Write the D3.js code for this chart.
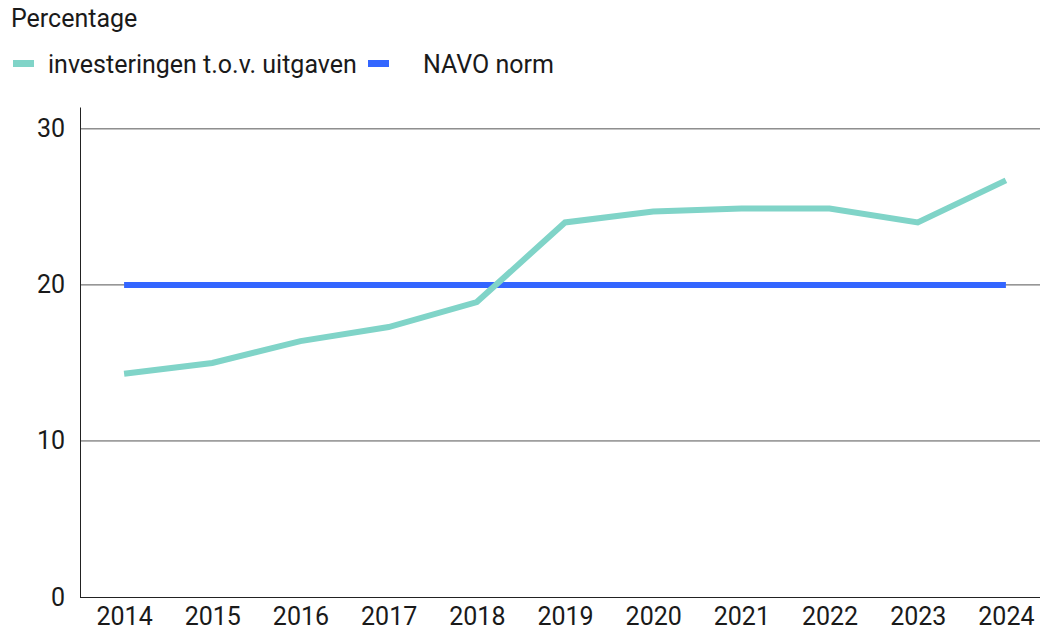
<!DOCTYPE html>
<html>
<head>
<meta charset="utf-8">
<script src="https://cdn.jsdelivr.net/npm/d3@7"></script>
<style>
  body { margin: 0; background: #fff; }
  svg { display: block; font-family: Roboto, sans-serif; }
</style>
</head>
<body>
<div id="chart"></div>
<script>
// Data
var years = ["2014", "2015", "2016", "2017", "2018", "2019", "2020", "2021", "2022", "2023", "2024"];
var investeringen = [14.3, 15.0, 16.4, 17.3, 18.9, 24.0, 24.7, 24.9, 24.9, 24.0, 26.7];
var navoNorm = [20, 20, 20, 20, 20, 20, 20, 20, 20, 20, 20];
var yTicks = [0, 10, 20, 30];
var seriesNames = ["investeringen t.o.v. uitgaven", "NAVO norm"];
var seriesColors = ["#80d4c8", "#3366ff"];

var width = 1040, height = 632;
var margin = { top: 107, right: -10, bottom: 35, left: 80 };
var innerW = width - margin.left - margin.right;
var innerH = height - margin.top - margin.bottom;
var fontSize = "25px";

var svg = d3.select("#chart")
  .append("svg")
  .attr("width", width)
  .attr("height", height);

// Title
svg.append("text")
  .attr("x", 11)
  .attr("y", 27)
  .style("font-size", fontSize)
  .style("fill", "#1a1a1a")
  .text("Percentage");

// Legend
var legendX = [13, 368];
var legendTextX = [48, 423];
seriesNames.forEach(function(name, i) {
  svg.append("rect")
    .attr("x", legendX[i])
    .attr("y", 60)
    .attr("width", 21)
    .attr("height", 7)
    .attr("fill", seriesColors[i]);
  svg.append("text")
    .attr("x", legendTextX[i])
    .attr("y", 73)
    .style("font-size", fontSize)
    .style("fill", "#1a1a1a")
    .text(name);
});

var g = svg.append("g")
  .attr("transform", "translate(" + margin.left + "," + margin.top + ")");

var x = d3.scalePoint()
  .domain(years)
  .range([0, innerW])
  .padding(0.5);

var y = d3.scaleLinear()
  .domain([0, 31.4])
  .range([innerH, 0]);

// Gridlines
g.selectAll(".grid")
  .data(yTicks.slice(1))
  .enter().append("line")
  .attr("class", "grid")
  .attr("x1", 0)
  .attr("x2", width - margin.left)
  .attr("y1", function(d) { return y(d); })
  .attr("y2", function(d) { return y(d); })
  .attr("stroke", "#555")
  .attr("stroke-width", 1);

// Y axis
var yAxis = g.append("g")
  .call(d3.axisLeft(y).tickValues(yTicks).tickSize(0).tickPadding(15));
yAxis.select(".domain").attr("stroke", "#222");
yAxis.selectAll("text")
  .style("font-family", "Roboto, sans-serif")
  .style("font-size", fontSize)
  .style("fill", "#1a1a1a");

// X axis (labels nudged up a little so they stay inside the frame)
var xAxis = g.append("g")
  .attr("transform", "translate(0," + innerH + ")")
  .call(d3.axisBottom(x).tickSize(0).tickPadding(10.5));
xAxis.select(".domain")
  .attr("d", "M0,0.5H" + (width - margin.left))
  .attr("stroke", "#222");
xAxis.selectAll("text")
  .style("font-family", "Roboto, sans-serif")
  .style("font-size", fontSize)
  .style("fill", "#1a1a1a");

// Lines
var line = d3.line()
  .x(function(d, i) { return x(years[i]); })
  .y(function(d) { return y(d); });

g.append("path")
  .datum(navoNorm)
  .attr("d", line)
  .attr("fill", "none")
  .attr("stroke", seriesColors[1])
  .attr("stroke-width", 6);

g.append("path")
  .datum(investeringen)
  .attr("d", line)
  .attr("fill", "none")
  .attr("stroke", seriesColors[0])
  .attr("stroke-width", 6);
</script>
</body>
</html>
